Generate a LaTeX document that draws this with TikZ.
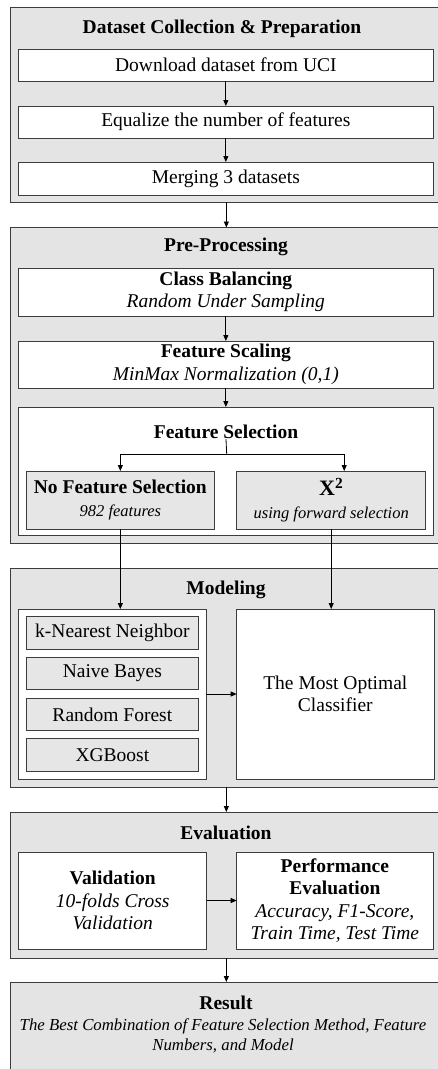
\documentclass[tikz,border=0pt]{standalone}
\usepackage{fontspec}
\setmainfont{Liberation Serif}
\usetikzlibrary{arrows.meta}
\definecolor{stagegray}{HTML}{E4E4E4}
\definecolor{itemgray}{HTML}{E6E6E6}
\definecolor{edgegray}{HTML}{3C3C3C}
\tikzset{
  stage/.style={draw=edgegray, fill=stagegray, line width=1pt, inner sep=0pt, outer sep=0pt},
  plain/.style={draw=edgegray, fill=white, line width=1pt, inner sep=0pt, outer sep=0pt, align=center, font=\fontsize{19.5}{22.5}\selectfont},
  shaded/.style={plain, fill=itemgray},
  title/.style={font=\fontsize{19.5}{22.5}\selectfont\bfseries, inner sep=0pt},
  arr/.style={-{Triangle[length=6pt,width=5pt]}, line width=0.8pt},
}
\begin{document}
\begin{tikzpicture}[x=1pt,y=-1pt]
\useasboundingbox (0,0) rectangle (438,1069);

\node[stage, minimum width=431.3, minimum height=195] (s1) at (226.35,104.5) {};
\node[stage, minimum width=431.3, minimum height=315.5] (s2) at (226.35,385.25) {};
\node[stage, minimum width=431.3, minimum height=219] (s3) at (226.35,677.5) {};
\node[stage, minimum width=431.3, minimum height=146] (s4) at (226.35,885) {};
\node[stage, minimum width=431.3, minimum height=93] (res) at (226.35,1028.5) {};

\node[title] (t1) at (222,29) {Dataset Collection \& Preparation};
\node[title] (t2) at (226,247) {Pre-Processing};
\node[title] (t3) at (226,590) {Modeling};
\node[title] (t4) at (226,833) {Evaluation};
\node[title] (t5) at (226,1003) {Result};

\node[plain, minimum width=414.3, minimum height=32] (dl) at (225.85,65) {Download dataset from UCI};
\node[plain, minimum width=414.3, minimum height=32] (eq) at (225.85,122) {Equalize the number of features};
\node[plain, minimum width=414.3, minimum height=33] (mg) at (225.85,178.5) {Merging 3 datasets};

\node[plain, minimum width=414.3, minimum height=48] (cb) at (225.85,292) {\textbf{Class Balancing}\\\textit{Random Under Sampling}};
\node[plain, minimum width=414.3, minimum height=47] (fs) at (225.85,364.5) {\textbf{Feature Scaling}\\\textit{MinMax Normalization (0,1)}};
\node[plain, minimum width=414.3, minimum height=128] (fsel) at (225.85,471) {};
\node[title] (fsl) at (226,432) {Feature Selection};
\node[shaded, minimum width=187.3, minimum height=58] (nfs) at (120.35,500) {\textbf{No Feature Selection}\\{\fontsize{16.5}{21}\selectfont\itshape 982 features}};
\node[shaded, minimum width=189, minimum height=58] (chi) at (331.2,500) {{\fontsize{22}{24}\selectfont\bfseries X\textsuperscript{2}}\\{\fontsize{16.5}{21}\selectfont\itshape using forward selection}};

\node[plain, minimum width=187.3, minimum height=170] (models) at (112.35,694) {};
\node[shaded, minimum width=171.3, minimum height=32.5] (knn) at (112.35,633) {k-Nearest Neighbor};
\node[shaded, minimum width=171.3, minimum height=32.5] (nb) at (112.35,673.5) {Naive Bayes};
\node[shaded, minimum width=171.3, minimum height=32.5] (rf) at (112.35,714.5) {Random Forest};
\node[shaded, minimum width=171.3, minimum height=32.5] (xgb) at (112.35,755) {XGBoost};
\node[plain, minimum width=197.3, minimum height=170] (best) at (335.35,694) {The Most Optimal\\Classifier};

\node[plain, minimum width=188, minimum height=97] (val) at (112.7,900.5) {\textbf{Validation}\\\textit{10-folds Cross}\\\textit{Validation}};
\node[plain, minimum width=196.3, minimum height=97] (perf) at (334.85,900.5) {\textbf{Performance}\\\textbf{Evaluation}\\\textit{Accuracy, F1-Score,}\\\textit{Train Time, Test Time}};

\node[align=center, inner sep=0pt, font=\fontsize{16.8}{20}\selectfont\itshape] (rtxt) at (223,1036) {The Best Combination of Feature Selection Method, Feature\\Numbers, and Model};

\coordinate (split) at (226.7,454);

\draw[arr] (dl) -- (eq);
\draw[arr] (eq) -- (mg);
\draw[arr] (s1) -- (s2);
\draw[arr] (cb) -- (fs);
\draw[arr] (fs) -- (fsel);
\draw[line width=0.8pt] (fsl.south) -- (split);
\draw[arr] (split) -| (nfs.north);
\draw[arr] (split) -| ([xshift=13]chi.north);
\draw[arr] (nfs.south) -- (nfs.south |- models.north);
\draw[arr] (chi.south) -- (chi.south |- best.north);
\draw[arr] (models) -- (best);
\draw[arr] (s3) -- (s4);
\draw[arr] (val) -- (perf);
\draw[arr] (s4) -- (res);
\end{tikzpicture}
\end{document}
